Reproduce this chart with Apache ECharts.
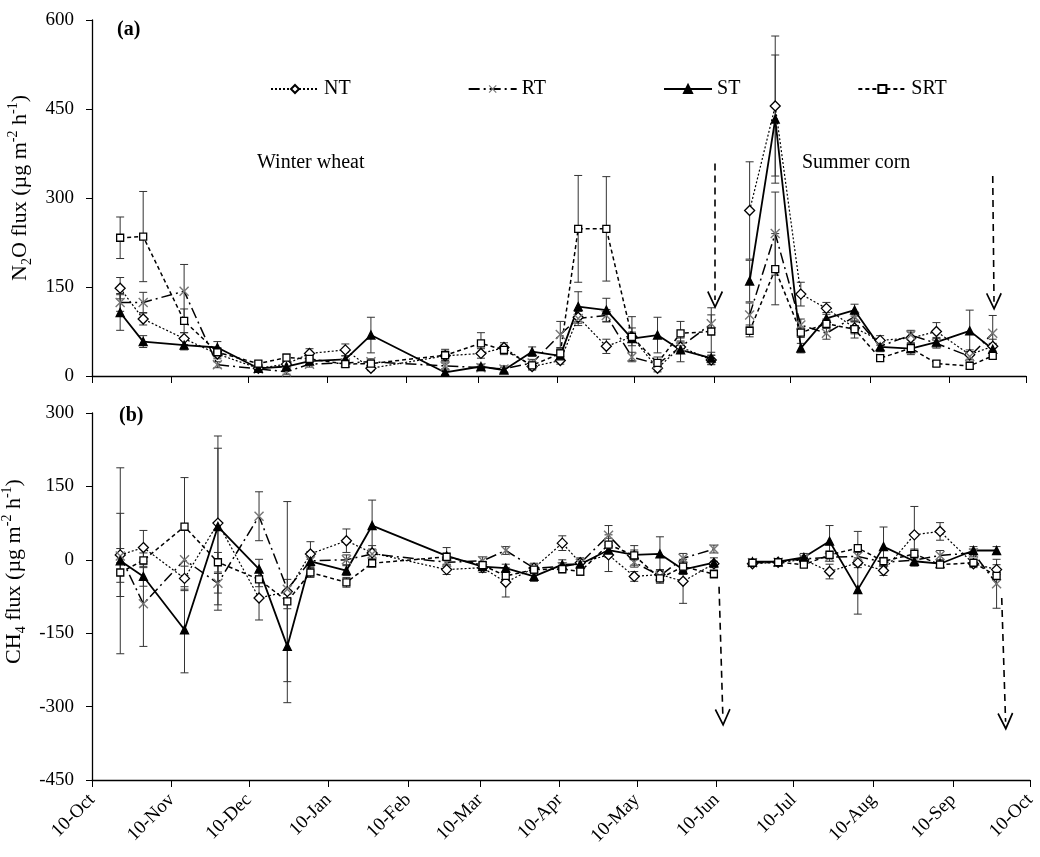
<!DOCTYPE html>
<html>
<head>
<meta charset="utf-8">
<script src="https://cdn.jsdelivr.net/npm/echarts@6/dist/echarts.min.js"></script>
<style>
  html, body { margin: 0; padding: 0; background: #fff; }
  #chart { width: 1040px; height: 857px; }
</style>
</head>
<body>
<div id="chart"></div>
<script>
// sampling dates (winter wheat season, then summer corn season)
var startDate = '2010-10-10'
var sampleDates = [
  '2010-10-21', '2010-10-30', '2010-11-15', '2010-11-28', '2010-12-14', '2010-12-25',
  '2011-01-03', '2011-01-17', '2011-01-27', '2011-02-25', '2011-03-11', '2011-03-20',
  '2011-03-31', '2011-04-11', '2011-04-18', '2011-04-29', '2011-05-09', '2011-05-19',
  '2011-05-28', '2011-06-09',
  '2011-06-24', '2011-07-04', '2011-07-14', '2011-07-24', '2011-08-04', '2011-08-14',
  '2011-08-26', '2011-09-05', '2011-09-18', '2011-09-27'
]
var summerStart = 20
var tickDates = ['2010-10-10', '2010-11-10', '2010-12-10', '2011-01-10', '2011-02-10', '2011-03-10',
  '2011-04-10', '2011-05-10', '2011-06-10', '2011-07-10', '2011-08-10', '2011-09-10', '2011-10-10']
var tickLabels = ['10-Oct', '10-Nov', '10-Dec', '10-Jan', '10-Feb', '10-Mar', '10-Apr',
  '10-May', '10-Jun', '10-Jul', '10-Aug', '10-Sep', '10-Oct']

// (a) N2O flux
var n2oNT = [148, 96, 63, 37, 13, 20, 38, 44, 13, 34, 38, 48, 16, 26, 99, 50, 66, 13, 49, 27,
  279, 455, 138, 114, 81, 60, 64, 75, 36, 50]
var n2oRT = [124, 124, 143, 19, 12, 7, 20, 22, 24, 17, 14, 12, 22, 70, 97, 102, 32, 20, 49, 88,
  103, 240, 86, 72, 100, 50, 69, 55, 33, 72]
var n2oST = [107, 58, 52, 48, 13, 16, 25, 28, 69, 6, 16, 10, 41, 34, 117, 111, 63, 69, 44, 30,
  160, 433, 47, 97, 111, 49, 46, 57, 76, 45]
var n2oSRT = [233, 235, 93, 40, 21, 31, 29, 20, 21, 35, 55, 44, 18, 38, 248, 248, 66, 22, 72, 75,
  76, 180, 73, 88, 79, 30, 47, 21, 17, 34]
var n2oErrNT = [18, 10, 10, 8, 4, 4, 8, 10, 4, 8, 8, 8, 6, 6, 10, 12, 8, 6, 10, 8,
  82, 118, 20, 10, 10, 8, 10, 15, 8, 12]
var n2oErrRT = [15, 17, 45, 5, 4, 4, 5, 5, 5, 5, 5, 5, 6, 22, 12, 10, 8, 6, 8, 15,
  20, 70, 10, 10, 8, 8, 8, 8, 8, 30]
var n2oErrST = [30, 10, 8, 10, 4, 4, 5, 6, 30, 4, 4, 4, 8, 10, 25, 20, 37, 30, 20, 10,
  35, 108, 8, 10, 10, 8, 10, 8, 35, 10]
var n2oErrSRT = [35, 76, 20, 8, 4, 6, 5, 5, 5, 10, 18, 8, 5, 8, 90, 88, 15, 10, 20, 40,
  10, 60, 8, 8, 15, 5, 8, 5, 5, 5]

// (b) CH4 flux
var ch4NT = [10, 25, -38, 75, -78, -65, 12, 39, 14, -20, -16, -46, -17, 34, -6, 10, -34, -30, -44, -8,
  -8, -5, 0, -24, -6, -22, 51, 58, -8, -20]
var ch4RT = [8, -90, 0, -48, 89, -60, -2, 0, 12, -5, -2, 19, -17, -14, -7, 50, -5, -33, 3, 22,
  -6, -5, 2, 5, 7, -5, -1, 9, 14, -49]
var ch4ST = [-2, -34, -143, 68, -19, -177, -3, -22, 70, 8, -14, -17, -34, -10, -9, 20, 10, 12, -20, -6,
  -4, -4, 5, 38, -61, 27, -3, -8, 19, 19]
var ch4SRT = [-26, -1, 68, -5, -40, -85, -26, -46, -7, 6, -11, -33, -20, -19, -24, 31, 9, -38, -14, -29,
  -6, -5, -10, 10, 24, -3, 12, -10, -6, -33]
var ch4ErrNT = [85, 35, 25, 178, 45, 184, 25, 24, 15, 10, 10, 30, 10, 15, 10, 34, 10, 10, 45, 5,
  5, 5, 5, 15, 10, 10, 58, 18, 8, 10]
var ch4ErrRT = [15, 87, 60, 20, 50, 20, 10, 10, 10, 8, 8, 8, 8, 8, 8, 20, 10, 12, 10, 8,
  4, 4, 5, 8, 8, 8, 10, 10, 8, 50]
var ch4ErrST = [190, 20, 88, 160, 20, 115, 20, 10, 52, 17, 8, 8, 10, 10, 10, 15, 10, 35, 10, 10,
  5, 5, 8, 32, 50, 40, 10, 8, 8, 8]
var ch4ErrSRT = [20, 15, 100, 20, 15, 15, 10, 10, 8, 8, 8, 8, 8, 8, 8, 20, 20, 10, 10, 8,
  4, 4, 5, 8, 34, 8, 10, 5, 5, 8]

var FONT = 'Liberation Serif, Times New Roman, serif'

function dayOf (s) {
  return (Date.parse(s) - Date.parse(startDate)) / 86400000
}
var sampleDays = sampleDates.map(dayOf)
var tickDays = tickDates.map(dayOf)

function lineData (vals) {
  var out = []
  vals.forEach(function (v, i) {
    if (i === summerStart) out.push([(sampleDays[i - 1] + sampleDays[i]) / 2, '-'])
    out.push([sampleDays[i], v])
  })
  return out
}
function errData (vals, errs) {
  return vals.map(function (v, i) { return [sampleDays[i], v, errs[i]] })
}

var xPath = 'path://M1,0 L5,4 L9,0 L10,1 L6,5 L10,9 L9,10 L5,6 L1,10 L0,9 L4,5 L0,1 Z'
var vHead = 'path://M10,0 L20,18 L18.2,19 L10,4.4 L1.8,19 L0,18 Z'

var styles = {
  NT: { symbol: 'diamond', symbolSize: 10, fill: '#fff', border: '#000', line: [2, 2], width: 1.2 },
  RT: { symbol: xPath, symbolSize: 10, fill: '#777', border: '#777', line: [11, 4, 2, 4], width: 1.5 },
  ST: { symbol: 'triangle', symbolSize: 8, fill: '#000', border: '#000', line: 'solid', width: 1.8 },
  SRT: { symbol: 'rect', symbolSize: 7, fill: '#fff', border: '#000', line: [4, 3], width: 1.5 }
}

function makeLine (name, vals, panel) {
  var st = styles[name]
  return {
    name: name,
    type: 'line',
    xAxisIndex: panel,
    yAxisIndex: panel,
    data: lineData(vals),
    symbol: st.symbol,
    symbolSize: st.symbolSize,
    showAllSymbol: true,
    connectNulls: false,
    z: 3,
    itemStyle: { color: st.fill, borderColor: st.border, borderWidth: name === 'RT' ? 0 : 1.3 },
    lineStyle: { color: '#000', type: st.line, width: st.width },
    emphasis: { disabled: true }
  }
}

function makeErr (vals, errs, panel) {
  return {
    type: 'custom',
    xAxisIndex: panel,
    yAxisIndex: panel,
    data: errData(vals, errs),
    z: 2,
    silent: true,
    encode: { x: 0, y: 1 },
    renderItem: function (params, api) {
      var x = api.value(0), y = api.value(1), e = api.value(2)
      var hi = api.coord([x, y + e])
      var lo = api.coord([x, y - e])
      var w = 4
      var s = { stroke: '#333', lineWidth: 1 }
      return {
        type: 'group',
        children: [
          { type: 'line', shape: { x1: hi[0], y1: hi[1], x2: lo[0], y2: lo[1] }, style: s },
          { type: 'line', shape: { x1: hi[0] - w, y1: hi[1], x2: hi[0] + w, y2: hi[1] }, style: s },
          { type: 'line', shape: { x1: lo[0] - w, y1: lo[1], x2: lo[0] + w, y2: lo[1] }, style: s }
        ]
      }
    }
  }
}

function arrows (pairs) {
  return {
    silent: true,
    symbol: ['none', vHead],
    symbolSize: [16, 18],
    label: { show: false },
    lineStyle: { color: '#000', type: [7, 5], width: 1.6 },
    data: pairs.map(function (p) { return [{ coord: [p[0], p[1]] }, { coord: [p[2], p[3]] }] })
  }
}

var axisFont = { fontFamily: FONT, fontSize: 19, color: '#000' }
var nameRich = {
  n: { fontFamily: FONT, fontSize: 22, color: '#000', lineHeight: 28 },
  s: { fontFamily: FONT, fontSize: 14, color: '#000', verticalAlign: 'bottom', lineHeight: 15 },
  p: { fontFamily: FONT, fontSize: 14, color: '#000', verticalAlign: 'top', lineHeight: 15 }
}

function xAxis (panel) {
  return {
    type: 'value',
    gridIndex: panel,
    min: 0,
    max: 365,
    splitLine: { show: false },
    axisLine: { onZero: false, lineStyle: { color: '#000', width: 1.3 } },
    axisTick: { customValues: tickDays, length: 7, lineStyle: { color: '#000' } },
    axisLabel: panel === 0 ? { show: false } : {
      customValues: tickDays,
      rotate: 45,
      margin: 17,
      fontFamily: FONT,
      fontSize: 19,
      color: '#000',
      formatter: function (v) { return tickLabels[tickDays.indexOf(v)] }
    }
  }
}

function yAxis (panel, min, max, name, shift) {
  return {
    type: 'value',
    gridIndex: panel,
    min: min,
    max: max,
    interval: 150,
    name: name,
    nameLocation: 'middle',
    nameRotate: 90,
    nameGap: 58,
    nameTextStyle: { rich: nameRich, padding: [0, 0, 0, shift] },
    splitLine: { show: false },
    axisLine: { show: true, onZero: false, lineStyle: { color: '#000', width: 1.3 } },
    axisTick: { show: true, length: 6, lineStyle: { color: '#000' } },
    axisLabel: Object.assign({ margin: 18 }, axisFont)
  }
}

var chart = echarts.init(document.getElementById('chart'))
var option = {
  animation: false,
  backgroundColor: '#fff',
  grid: [
    { left: 92, top: 20, right: 14, height: 356, outerBoundsMode: 'none' },
    { left: 92, top: 413, right: 10, height: 367, outerBoundsMode: 'none' }
  ],
  legend: {
    data: ['NT', 'RT', 'ST', 'SRT'],
    left: 265,
    top: 74,
    itemWidth: 48,
    itemHeight: 10,
    itemGap: 117,
    textStyle: { fontFamily: FONT, fontSize: 20, color: '#000' }
  },
  xAxis: [xAxis(0), xAxis(1)],
  yAxis: [
    yAxis(0, 0, 600, '{n|N}{s|2}{n|O flux (µg m}{p|-2}{n| h}{p|-1}{n|)}', 20),
    yAxis(1, -450, 300, '{n|CH}{s|4}{n| flux (µg m}{p|-2}{n| h}{p|-1}{n|)}', 50)
  ],
  graphic: [
    { type: 'text', left: 117, top: 20, style: { text: '(a)', font: 'bold 20px ' + FONT, fill: '#000' } },
    { type: 'text', left: 119, top: 406, style: { text: '(b)', font: 'bold 20px ' + FONT, fill: '#000' } },
    { type: 'text', left: 257, top: 153, style: { text: 'Winter wheat', font: '20px ' + FONT, fill: '#000' } },
    { type: 'text', left: 802, top: 153, style: { text: 'Summer corn', font: '20px ' + FONT, fill: '#000' } }
  ],
  series: [
    makeErr(n2oNT, n2oErrNT, 0), makeErr(n2oRT, n2oErrRT, 0),
    makeErr(n2oST, n2oErrST, 0), makeErr(n2oSRT, n2oErrSRT, 0),
    makeErr(ch4NT, ch4ErrNT, 1), makeErr(ch4RT, ch4ErrRT, 1),
    makeErr(ch4ST, ch4ErrST, 1), makeErr(ch4SRT, ch4ErrSRT, 1),
    makeLine('NT', n2oNT, 0), makeLine('RT', n2oRT, 0),
    Object.assign(makeLine('ST', n2oST, 0), { markLine: arrows([[243.5, 358, 243.5, 128], [352, 337, 352.5, 125]]) }),
    makeLine('SRT', n2oSRT, 0),
    makeLine('NT', ch4NT, 1), makeLine('RT', ch4RT, 1),
    Object.assign(makeLine('ST', ch4ST, 1), { markLine: arrows([[244, -55, 245.5, -323], [354, -78, 355.5, -331]]) }),
    makeLine('SRT', ch4SRT, 1)
  ]
}
chart.setOption(option)
</script>
</body>
</html>
